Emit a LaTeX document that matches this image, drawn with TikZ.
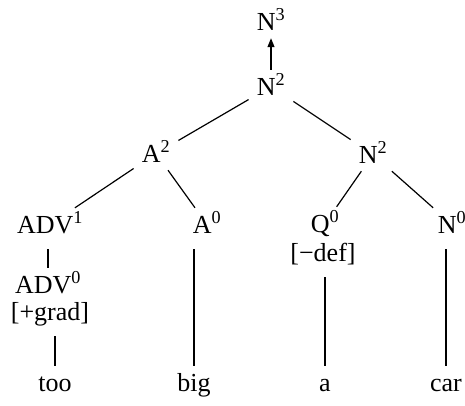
\documentclass[tikz,border=0pt]{standalone}
\usepackage{fontspec}
\setmainfont{Liberation Serif}
\usepackage{tikz}
\usetikzlibrary{arrows.meta,calc,positioning}
\tikzset{lab/.style={font=\fontsize{26}{24}\selectfont,anchor=base,text height=19pt,text depth=2pt,inner xsep=8pt,inner ysep=6pt},branch/.style={line width=1.2pt},stem/.style={line width=1.2pt,shorten >=8pt},up/.style={-{Triangle[length=9pt,width=7pt]},line width=1.2pt}}

\begin{document}
\begin{tikzpicture}[x=1pt,y=-1pt]
      \useasboundingbox (0,0) rectangle (465,405);
      \node[lab](n3) at (271,30){N\textsuperscript{3}};
      \node[lab](n2top) at (271,95){N\textsuperscript{2}};
      \node[lab](a2) at (156,162){A\textsuperscript{2}};
      \node[lab](n2low) at (373,163){N\textsuperscript{2}};
      \node[lab](adv1) at (50,233){ADV\textsuperscript{1}};
      \node[lab](a0) at (207,233){A\textsuperscript{0}};
      \node[lab](q0) at (325,232){Q\textsuperscript{0}};
      \node[lab](n0) at (452,233){N\textsuperscript{0}};
      \node[lab](adv0) at (48,293){ADV\textsuperscript{0}};
      \node[lab](grad) at (50,320){[+grad]};
      \node[lab](def) at (323,261){[−def]};
      \node[lab](too) at (55,391){too};
      \node[lab](big) at (194,391){big};
      \node[lab](a) at (325,391){a};
      \node[lab](car) at (446,391){car};
      \draw[up](n2top)--(n3);
      \draw[branch](n2top)--(a2);\draw[branch](n2top)--(n2low);
      \draw[branch](a2)--(adv1);\draw[branch](a2)--(a0);
      \draw[branch](n2low)--(q0);\draw[branch](n2low)--(n0);
      \draw[stem](adv0.north)--(adv0.north|-adv1.south);
      \draw[stem](too.north)--(too.north|-grad.south);
      \draw[stem](big.north)--(big.north|-a0.south);
      \draw[stem](a.north)--(a.north|-def.south);
      \draw[stem](car.north)--(car.north|-n0.south);
    \end{tikzpicture}
\end{document}
